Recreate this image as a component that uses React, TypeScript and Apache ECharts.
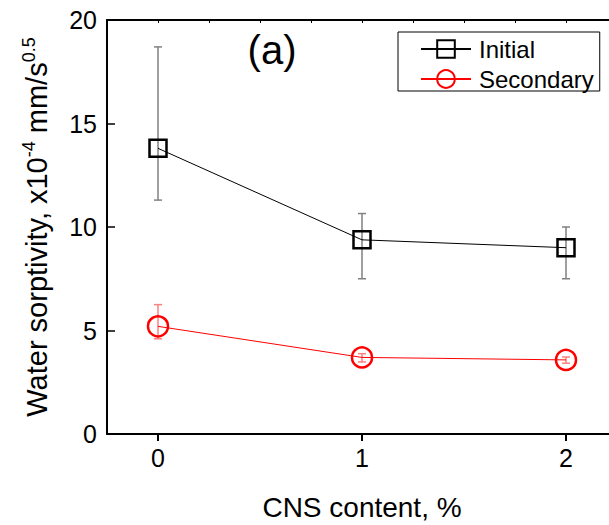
import React, { useEffect, useRef } from "react";
import * as echarts from "echarts";

const cnsContent = [0, 1, 2];
const initialValues = [13.8, 9.38, 9.0];
const initialLow = [11.3, 7.5, 7.5];
const initialHigh = [18.7, 10.65, 10.0];
const secondaryValues = [5.2, 3.7, 3.58];
const secondaryLow = [4.6, 3.48, 3.42];
const secondaryHigh = [6.25, 3.88, 3.72];
const xTicks = [0, 1, 2];

const FONT = "Liberation Sans";

function errorSeries(low: number[], high: number[], color: string) {
  return {
    type: "custom",
    silent: true,
    z: 1,
    data: cnsContent.map((x, i) => [x, low[i], high[i]]),
    renderItem: (params: any, api: any) => {
      const x = api.value(0);
      const lo = api.coord([x, api.value(1)]);
      const hi = api.coord([x, api.value(2)]);
      const cap = 4;
      const style = { stroke: color, lineWidth: 1.5 };
      return {
        type: "group",
        children: [
          { type: "line", shape: { x1: lo[0], y1: lo[1], x2: hi[0], y2: hi[1] }, style },
          { type: "line", shape: { x1: lo[0] - cap, y1: lo[1], x2: lo[0] + cap, y2: lo[1] }, style },
          { type: "line", shape: { x1: hi[0] - cap, y1: hi[1], x2: hi[0] + cap, y2: hi[1] }, style },
        ],
      };
    },
  };
}

export default function App() {
  const ref = useRef<HTMLDivElement>(null);
  useEffect(() => {
    if (!ref.current) return;
    const chart = echarts.init(ref.current, null, { renderer: "svg" });
    chart.setOption({
      animation: false,
      backgroundColor: "#fff",
      textStyle: { fontFamily: FONT },
      grid: { left: 107, top: 20, width: 510, bottom: 91, containLabel: false, outerBoundsMode: "none" },
      legend: {
        orient: "vertical",
        left: 398,
        top: 32,
        borderColor: "#000",
        borderWidth: 1,
        borderRadius: 0,
        padding: [5, 6, 0, 22],
        itemGap: 6,
        itemWidth: 50,
        itemHeight: 22,
        textStyle: { fontSize: 24, fontFamily: FONT, color: "#000", padding: [0, 0, 0, 3] },
        data: ["Initial", "Secondary"],
      },
      xAxis: [
        {
          type: "value",
          position: "bottom",
          min: -0.25,
          max: 2.25,
          name: "CNS content, %",
          nameLocation: "middle",
          nameGap: 59,
          nameTextStyle: { fontSize: 28, color: "#000", fontFamily: FONT },
          axisLine: { onZero: false, lineStyle: { color: "#000", width: 2 } },
          axisTick: { customValues: xTicks, inside: false, length: 7, lineStyle: { color: "#000", width: 2 } },
          axisLabel: { customValues: xTicks, fontSize: 25, color: "#000", margin: 11, fontFamily: FONT },
          splitLine: { show: false },
        },
        {
          type: "value",
          position: "top",
          min: -0.25,
          max: 2.25,
          interval: 0.25,
          axisLine: { onZero: false, lineStyle: { color: "#000", width: 2 } },
          axisTick: { inside: true, length: 3, lineStyle: { color: "#000", width: 1 } },
          axisLabel: { show: false },
          splitLine: { show: false },
        },
      ],
      yAxis: {
        type: "value",
        min: 0,
        max: 20,
        interval: 5,
        name: "{a|Water sorptivity, x10}{s|-4}{a| mm/s}{s|0.5}",
        nameLocation: "middle",
        nameGap: 53,
        nameTextStyle: {
          color: "#000",
          rich: {
            a: { fontSize: 29, fontFamily: FONT, color: "#000", lineHeight: 34 },
            s: { fontSize: 18, fontFamily: FONT, color: "#000", lineHeight: 18, verticalAlign: "top" },
          },
        },
        axisLine: { show: true, onZero: false, lineStyle: { color: "#000", width: 2 } },
        axisTick: { show: true, inside: true, length: 8, lineStyle: { color: "#000", width: 1.5 } },
        axisLabel: { fontSize: 25, color: "#000", margin: 10, fontFamily: FONT },
        splitLine: { show: false },
      },
      graphic: [
        {
          type: "text",
          x: 272,
          y: 50,
          style: {
            text: "(a)",
            fontSize: 40,
            fontFamily: FONT,
            fill: "#000",
            textAlign: "center",
            textVerticalAlign: "middle",
          },
        },
      ],
      series: [
        errorSeries(initialLow, initialHigh, "#808080"),
        errorSeries(secondaryLow, secondaryHigh, "#ff8080"),
        {
          name: "Initial",
          type: "line",
          z: 5,
          data: cnsContent.map((x, i) => [x, initialValues[i]]),
          symbol: "rect",
          symbolSize: 17,
          lineStyle: { color: "#000", width: 1 },
          itemStyle: { color: "rgba(0,0,0,0)", borderColor: "#000", borderWidth: 2.5 },
        },
        {
          name: "Secondary",
          type: "line",
          z: 5,
          data: cnsContent.map((x, i) => [x, secondaryValues[i]]),
          symbol: "circle",
          symbolSize: 20,
          lineStyle: { color: "#ff0000", width: 1 },
          itemStyle: { color: "rgba(0,0,0,0)", borderColor: "#ff0000", borderWidth: 2.5 },
        },
      ],
    });
    return () => chart.dispose();
  }, []);
  return <div ref={ref} style={{ width: 609, height: 525, position: "absolute", left: 0, top: 0 }} />;
}
